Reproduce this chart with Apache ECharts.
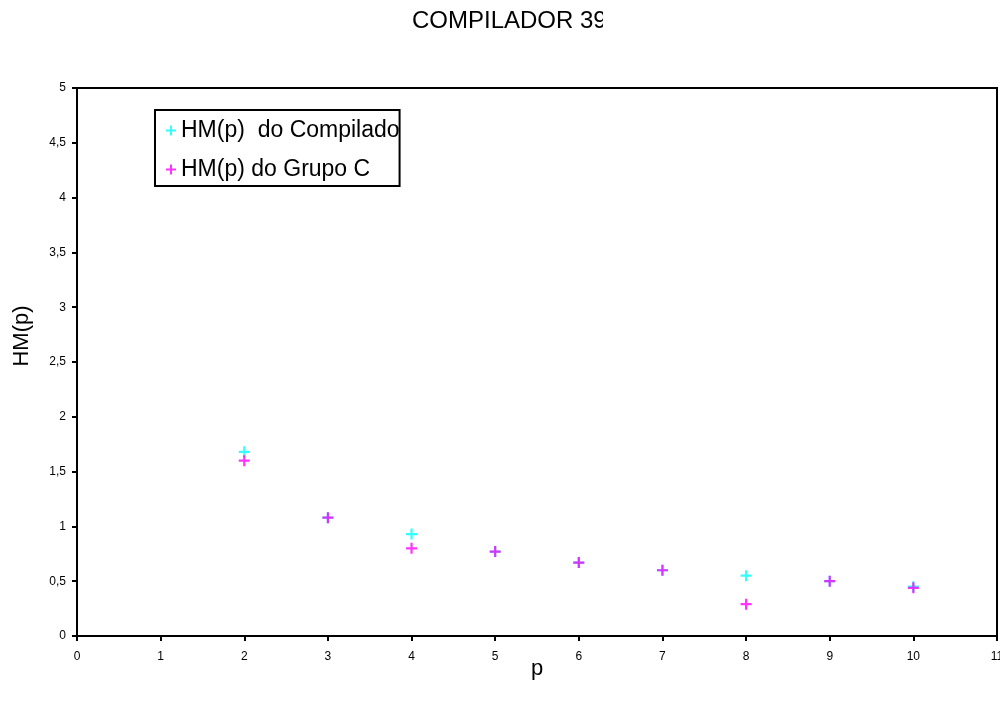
<!DOCTYPE html>
<html>
<head>
<meta charset="utf-8">
<script src="https://cdn.jsdelivr.net/npm/echarts@6/dist/echarts.min.js"></script>
<style>
  html, body { margin: 0; padding: 0; background: #fff; }
  #chart { width: 1000px; height: 709px; }
</style>
</head>
<body>
<div id="chart"></div>
<script>
// Values of HM(p) for each p
const pValues = [2, 3, 4, 5, 6, 7, 8, 9, 10];
const hmCompilador = [1.68, 1.08, 0.93, 0.77, 0.67, 0.60, 0.55, 0.50, 0.45];
const hmGrupoC = [1.60, 1.08, 0.80, 0.77, 0.67, 0.60, 0.29, 0.50, 0.44];
const seriesNames = ['HM(p)  do Compilador', 'HM(p) do Grupo C'];

const FONT = '"Liberation Sans", Arial, sans-serif';
const PLUS = 'path://M4,0h2v4h4v2h-4v4h-2v-4h-4v-2h4z';

const toPairs = (xs, ys) => xs.map((x, i) => [x, ys[i]]);

const chart = echarts.init(document.getElementById('chart'), null, { renderer: 'canvas' });

chart.setOption({
  backgroundColor: '#ffffff',
  animation: false,
  title: {
    text: 'COMPILADOR 39',
    left: 412,
    top: 9,
    padding: 0,
    textStyle: { fontFamily: FONT, fontSize: 24, fontWeight: 'normal', color: '#000' }
  },
  graphic: [
    // the title box ends partway through its last digit
    { type: 'rect', z: 100, left: 603, top: 0, shape: { width: 40, height: 45 }, style: { fill: '#fff' } }
  ],
  legend: {
    orient: 'vertical',
    left: 155,
    top: 110,
    padding: [9, 0, 5, 11],
    itemGap: 16,
    itemWidth: 10,
    itemHeight: 10,
    borderColor: '#000',
    borderWidth: 2,
    backgroundColor: '#fff',
    data: seriesNames,
    textStyle: {
      fontFamily: FONT, fontSize: 23, color: '#000',
      width: 220, overflow: 'truncate', ellipsis: ''
    }
  },
  grid: {
    left: 77, right: 3, top: 88, bottom: 73,
    show: true, borderColor: '#000', borderWidth: 2,
    containLabel: false,
    outerBoundsMode: 'none'
  },
  xAxis: {
    type: 'value',
    min: 0, max: 11, interval: 1,
    name: 'p',
    nameLocation: 'middle',
    nameGap: 22,
    nameMoveOverlap: false,
    nameTextStyle: { fontFamily: FONT, fontSize: 22, color: '#000' },
    axisLine: { lineStyle: { color: '#000', width: 2 } },
    axisTick: { show: true, length: 5, lineStyle: { color: '#000', width: 2 } },
    axisLabel: { fontFamily: FONT, fontSize: 12, color: '#000', margin: 15 },
    splitLine: { show: false }
  },
  yAxis: {
    type: 'value',
    min: 0, max: 5, interval: 0.5,
    name: 'HM(p)',
    nameLocation: 'middle',
    nameRotate: 90,
    nameGap: 44,
    nameMoveOverlap: false,
    nameTextStyle: { fontFamily: FONT, fontSize: 22, color: '#000', padding: [0, 0, 0, 52] },
    axisLine: { show: true, lineStyle: { color: '#000', width: 2 } },
    axisTick: { show: true, length: 5, lineStyle: { color: '#000', width: 2 } },
    axisLabel: {
      fontFamily: FONT, fontSize: 12, color: '#000', margin: 11,
      formatter: v => String(v).replace('.', ',')
    },
    splitLine: { show: false }
  },
  series: [
    {
      name: seriesNames[0],
      type: 'scatter',
      symbol: PLUS,
      symbolSize: 11,
      itemStyle: { color: '#00FFFF' },
      data: toPairs(pValues, hmCompilador)
    },
    {
      name: seriesNames[1],
      type: 'scatter',
      symbol: PLUS,
      symbolSize: 11,
      itemStyle: { color: '#FF00FF' },
      data: toPairs(pValues, hmGrupoC)
    }
  ]
});
</script>
</body>
</html>
